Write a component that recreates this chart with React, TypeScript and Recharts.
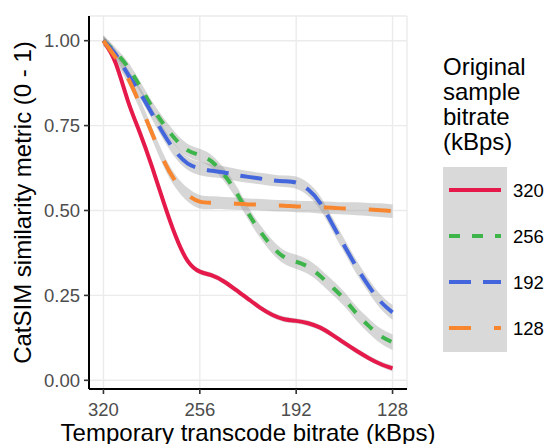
import React from 'react'
import { ComposedChart, Line, Area, XAxis, YAxis, CartesianGrid } from 'recharts'

// transcode bitrates on the x axis (kBps)
const bitrates = [320, 312, 304, 296, 288, 280, 272, 264, 256, 248, 240, 232, 224, 216, 208, 200, 192, 184, 176, 168, 160, 152, 144, 136, 128]

// smoothed CatSIM for each original sample bitrate
const s320 = [1.0, 0.935, 0.826, 0.731, 0.632, 0.524, 0.424, 0.351, 0.32, 0.309, 0.291, 0.266, 0.24, 0.214, 0.193, 0.18, 0.175, 0.168, 0.155, 0.134, 0.11, 0.087, 0.066, 0.048, 0.035]
const s256 = [1.0, 0.966, 0.924, 0.867, 0.807, 0.754, 0.709, 0.677, 0.663, 0.644, 0.606, 0.555, 0.493, 0.439, 0.394, 0.363, 0.349, 0.334, 0.307, 0.274, 0.239, 0.197, 0.161, 0.131, 0.112]
const s192 = [1.0, 0.96, 0.903, 0.848, 0.787, 0.725, 0.673, 0.638, 0.624, 0.617, 0.612, 0.605, 0.599, 0.594, 0.589, 0.586, 0.582, 0.562, 0.522, 0.46, 0.396, 0.334, 0.279, 0.232, 0.2]
const s128 = [1.0, 0.951, 0.892, 0.815, 0.73, 0.647, 0.585, 0.546, 0.526, 0.523, 0.522, 0.52, 0.518, 0.517, 0.515, 0.514, 0.512, 0.511, 0.509, 0.508, 0.506, 0.505, 0.503, 0.501, 0.498]

// half widths of the confidence bands
const se320 = [0.012, 0.009, 0.008, 0.008, 0.008, 0.008, 0.008, 0.008, 0.008, 0.008, 0.008, 0.008, 0.008, 0.008, 0.008, 0.008, 0.008, 0.008, 0.008, 0.008, 0.008, 0.008, 0.008, 0.008, 0.009]
const se256 = [0.015, 0.014, 0.015, 0.016, 0.017, 0.018, 0.019, 0.019, 0.019, 0.019, 0.019, 0.019, 0.019, 0.019, 0.02, 0.02, 0.021, 0.021, 0.021, 0.021, 0.021, 0.021, 0.022, 0.022, 0.023]
const se192 = [0.015, 0.014, 0.015, 0.016, 0.017, 0.018, 0.019, 0.019, 0.02, 0.019, 0.018, 0.018, 0.017, 0.017, 0.017, 0.017, 0.018, 0.019, 0.02, 0.02, 0.02, 0.02, 0.02, 0.021, 0.022]
const se128 = [0.015, 0.014, 0.015, 0.016, 0.017, 0.018, 0.019, 0.02, 0.02, 0.019, 0.018, 0.018, 0.017, 0.017, 0.017, 0.017, 0.017, 0.017, 0.018, 0.018, 0.018, 0.019, 0.019, 0.02, 0.02]

const groups = [
  { key: 'b320', label: '320', values: s320, se: se320, color: '#E6194B', dash: undefined },
  { key: 'b256', label: '256', values: s256, se: se256, color: '#3DB54A', dash: '11 12' },
  { key: 'b192', label: '192', values: s192, se: se192, color: '#4466DD', dash: '22 12' },
  { key: 'b128', label: '128', values: s128, se: se128, color: '#F7862F', dash: '22 23' },
]

const xTicks = [320, 256, 192, 128]
const yTicks = [0, 0.25, 0.5, 0.75, 1]

const data = bitrates.map((x, i) => {
  const row: Record<string, any> = { x }
  groups.forEach(g => {
    row[g.key] = g.values[i]
    row[g.key + 'se'] = [g.values[i] - g.se[i], g.values[i] + g.se[i]]
  })
  return row
})

const font = '"Liberation Sans", Arial, Helvetica, sans-serif'

export default function App() {
  return (
    <div style={{ position: 'absolute', left: 0, top: 0, width: 547, height: 444, fontFamily: font, background: '#fff' }}>
      <ComposedChart width={547} height={444} data={data} margin={{ top: 16, right: 140, bottom: 0, left: 0 }}>
        <CartesianGrid stroke="#EBEBEB" strokeWidth={1.4} />
        <XAxis
          dataKey="x"
          type="number"
          reversed
          domain={[118.4, 329.6]}
          ticks={xTicks}
          allowDataOverflow
          height={55}
          tickSize={5}
          tickMargin={9}
          axisLine={{ stroke: '#000', strokeWidth: 2 }}
          tickLine={{ stroke: '#333', strokeWidth: 1.6 }}
          tick={{ fill: '#4D4D4D', fontSize: 18.5, fontFamily: font }}
          label={() => (
            <text x={248} y={441} textAnchor="middle" fontSize={24} fill="#000" fontFamily={font}>
              Temporary transcode bitrate (kBps)
            </text>
          )}
        />
        <YAxis
          type="number"
          domain={[-0.0256, 1.0727]}
          ticks={yTicks}
          allowDataOverflow
          width={89}
          tickSize={5}
          tickMargin={4}
          tickFormatter={(v: number) => v.toFixed(2)}
          axisLine={{ stroke: '#000', strokeWidth: 2 }}
          tickLine={{ stroke: '#333', strokeWidth: 1.6 }}
          tick={{ fill: '#4D4D4D', fontSize: 18.5, fontFamily: font }}
          label={() => (
            <text x={31} y={202.5} transform="rotate(-90 31 202.5)" textAnchor="middle" fontSize={24} fill="#000" fontFamily={font}>
              CatSIM similarity metric (0 - 1)
            </text>
          )}
        />
        {groups.map(g => [
          <Area
            key={g.key + 'se'}
            dataKey={g.key + 'se'}
            type="natural"
            stroke="none"
            fill="#999999"
            fillOpacity={0.4}
            isAnimationActive={false}
            activeDot={false}
          />,
          <Line
            key={g.key}
            dataKey={g.key}
            type="natural"
            stroke={g.color}
            strokeWidth={4}
            strokeDasharray={g.dash}
            strokeLinecap="butt"
            dot={false}
            activeDot={false}
            isAnimationActive={false}
          />,
        ])}
      </ComposedChart>

      <svg width={547} height={444} style={{ position: 'absolute', left: 0, top: 0, pointerEvents: 'none' }}>
        {['Original', 'sample', 'bitrate', '(kBps)'].map((t, i) => (
          <text key={t} x={443} y={75 + i * 25} fontSize={24} fill="#000" fontFamily={font}>{t}</text>
        ))}
        <rect x={443} y={167} width={64} height={185} fill="#D9D9D9" />
        {groups.map((g, i) => (
          <g key={g.key}>
            <line x1={449} x2={501} y1={190 + i * 46} y2={190 + i * 46} stroke={g.color} strokeWidth={4} strokeDasharray={g.dash} />
            <text x={513} y={190 + i * 46} dominantBaseline="central" fontSize={18.5} fill="#000" fontFamily={font}>{g.label}</text>
          </g>
        ))}
      </svg>
    </div>
  )
}
